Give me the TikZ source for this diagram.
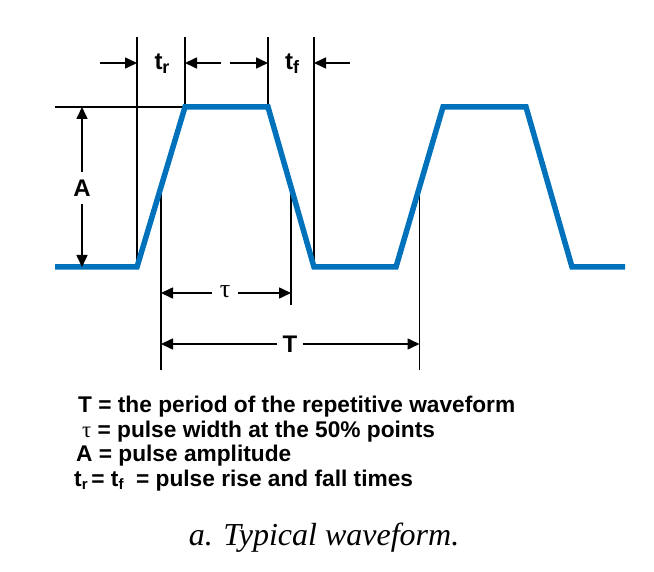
\documentclass[tikz,border=0pt]{standalone}
\usepackage{fontspec}
\setmainfont{Liberation Sans}
\newfontfamily\seriffont{Liberation Serif}
\usetikzlibrary{arrows.meta}
\definecolor{wave}{RGB}{0,114,188}
\newcommand{\subr}[1]{\raisebox{-0.3ex}{\fontsize{15}{15}\selectfont #1}}
\newcommand{\sublbl}[1]{\raisebox{-0.3ex}{\fontsize{18}{18}\selectfont #1}}
\begin{document}
\begin{tikzpicture}[x=1pt,y=-1pt,
  dim/.style={line width=1.6pt, black},
  dimarrow/.style={dim, -{Triangle[length=12pt,width=11pt]}},
  wavestyle/.style={line width=5.5pt, wave, line join=miter},
  lbl/.style={font=\bfseries\fontsize{24}{26}\selectfont, inner sep=0pt},
  legend/.style={font=\bfseries\fontsize{22.7}{25}\selectfont, anchor=base west, inner sep=0pt},
  caption/.style={font=\seriffont\itshape\fontsize{32}{36}\selectfont, anchor=base, inner sep=0pt}
]
\useasboundingbox (0,0) rectangle (654,572);
% waveform points
\coordinate (w0) at (55,267);
\coordinate (w1) at (137,267);
\coordinate (w2) at (185,107);
\coordinate (w3) at (268,107);
\coordinate (w4) at (314,267);
\coordinate (w5) at (396,267);
\coordinate (w6) at (443,107);
\coordinate (w7) at (526,107);
\coordinate (w8) at (572,267);
\coordinate (w9) at (625,267);
% vertical guide tops
\coordinate (g1) at (137,37);
\coordinate (g2) at (185,37);
\coordinate (g3) at (268,37);
\coordinate (g4) at (314,37);
\coordinate (hl) at (55,107);
% 50% points
\coordinate (m1) at (161,187);
\coordinate (m2) at (291,187);
\coordinate (m3) at (419.5,187);
\coordinate (m1b) at (161,370);
\coordinate (m2b) at (291,305);
\coordinate (m3b) at (419.5,370);
% guide lines
\draw[dim] (g1) -- (w1);
\draw[dim] (g2) -- (w2);
\draw[dim] (g3) -- (w3);
\draw[dim] (g4) -- (w4);
\draw[dim] (hl) -- (w2);
\draw[dim] (m1) -- (m1b);
\draw[dim] (m2) -- (m2b);
\draw[dim] (m3) -- (m3b);
% waveform
\draw[wavestyle] (w0) -- (w1) -- (w2) -- (w3) -- (w4) -- (w5) -- (w6) -- (w7) -- (w8) -- (w9);
% t_r and t_f
\node[lbl] (tr) at (162,64) {t\sublbl{r}};
\node[lbl] (tf) at (292,64) {t\sublbl{f}};
\coordinate (a1s) at (100,63);
\coordinate (a1e) at (137,63);
\coordinate (a2s) at (221,63);
\coordinate (a2e) at (185,63);
\coordinate (a3s) at (230,63);
\coordinate (a3e) at (268,63);
\coordinate (a4s) at (350,63);
\coordinate (a4e) at (314,63);
\draw[dimarrow] (a1s) -- (a1e);
\draw[dimarrow] (a2s) -- (a2e);
\draw[dimarrow] (a3s) -- (a3e);
\draw[dimarrow] (a4s) -- (a4e);
% A
\node[lbl, minimum height=32pt] (A) at (82,188) {A};
\coordinate (At) at (82,107);
\coordinate (Ab) at (82,267);
\draw[dimarrow] (A) -- (At);
\draw[dimarrow] (A) -- (Ab);
% tau
\node[font=\seriffont\fontsize{26}{28}\selectfont, inner sep=0pt, minimum width=26pt] (tau) at (225,292) {τ};
\coordinate (tl) at (161,293);
\coordinate (tr2) at (291,293);
\draw[dimarrow] (tau.west |- tl) -- (tl);
\draw[dimarrow] (tau.east |- tr2) -- (tr2);
% T
\node[lbl, minimum width=25pt] (T) at (290,344) {T};
\coordinate (Tl) at (161,344);
\coordinate (Tr) at (419.5,344);
\draw[dimarrow] (T) -- (Tl);
\draw[dimarrow] (T) -- (Tr);
% legend
\node[legend] (l1) at (78,412) {T = the period of the repetitive waveform};
\node[legend] (l2) at (82,437) {{\mdseries\seriffont τ} = pulse width at the 50\% points};
\node[legend] (l3) at (76,461) {A = pulse amplitude};
\node[legend] (l4) at (74,486) {t\subr{r}\,= t\subr{f}\ \ = pulse rise and fall times};
% caption
\node[caption] (cap) at (324,545) {a. Typical waveform.};
\end{tikzpicture}
\end{document}
